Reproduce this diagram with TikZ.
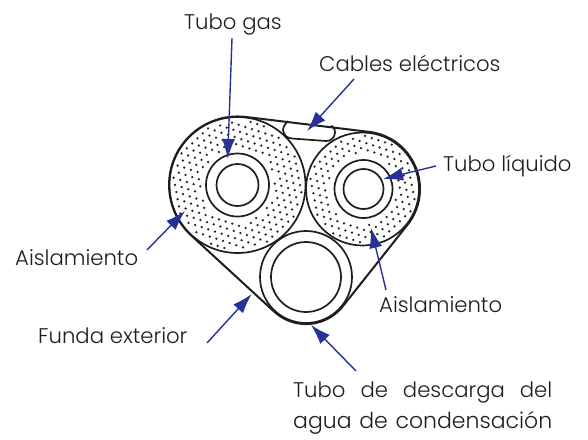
\documentclass[tikz,border=0pt]{standalone}
\usepackage{fontspec}
\setmainfont{Poppins}[UprightFont=* Light]
\usetikzlibrary{arrows.meta}
\definecolor{arrowblue}{RGB}{40,50,150}
\definecolor{ink}{RGB}{30,30,30}
\tikzset{
  line/.style={draw=ink,line width=1.7pt},
  sheath/.style={draw=ink,line width=2pt,line join=round},
  pointer/.style={draw=arrowblue,line width=1.4pt,-{Latex[length=20pt,width=13pt]}},
  label/.style={anchor=base west,inner sep=0pt,font=\fontsize{21.2pt}{24pt}\selectfont,text=ink},
  speck/.style={fill=ink,draw=none}
}
\newcommand{\stipple}[5]{% cx cy rmin rmax angle
  \foreach \i in {-11,...,11}{\foreach \j in {-11,...,11}{
    \pgfmathsetmacro{\px}{7*\i*cos(#5)-6.4*\j*sin(#5)+(mod(\j+20,2)==1?3.5*cos(#5):0)}
    \pgfmathsetmacro{\py}{7*\i*sin(#5)+6.4*\j*cos(#5)+(mod(\j+20,2)==1?3.5*sin(#5):0)}
    \pgfmathsetmacro{\rr}{sqrt(\px*\px+\py*\py)}
    \pgfmathparse{(\rr>#3 && \rr<#4)?1:0}
    \ifnum\pgfmathresult=1 \fill[speck] (#1+\px,#2+\py) circle (1.25);\fi
  }}
}
\begin{document}
\begin{tikzpicture}[x=1pt,y=-1pt]
\useasboundingbox[fill=white] (0,0) rectangle (588,439);
% stipple
\stipple{237.5}{185}{37}{65}{18}
\stipple{362.5}{189}{34}{53.5}{18}
% insulation and tubes
\draw[line] (237.5,185) circle (68);
\draw[line] (237.5,185) circle (31.5);
\draw[line] (237.5,185) circle (21);
\draw[line] (362.5,189) circle (56.5);
\draw[line] (363.5,189) circle (29);
\draw[line] (363.5,189) circle (20);
\fill[white] (306,277) circle (46);
\draw[line] (306,277) circle (46);
\draw[line] (306,277) circle (35);
% outer sheath
\draw[sheath] (191.1,235.3) arc[start angle=132.7,end angle=276.8,radius=68.5]
   -- (369.3,131.9) arc[start angle=-83.2,end angle=38.5,radius=57.5]
   -- (342.8,306.3) arc[start angle=38.5,end angle=132.7,radius=47] -- cycle;
% cable compartment
\draw[line] (288,121) .. controls (284,125) and (282,129) .. (283.5,132)
   .. controls (285,136) and (287,138) .. (292,138.5) -- (326,141)
   .. controls (331,141.5) and (335,137) .. (335,132.5) .. controls (335,129) and (333,127) .. (331.5,125.5);
% labels
\node[label] (gas) at (184,29) {Tubo gas};
\node[label] (cab) at (319,71) {Cables eléctricos};
\node[label] (liq) at (443,171) {Tubo líquido};
\node[label] (ail) at (15,265) {Aislamiento};
\node[label] (air) at (379,312) {Aislamiento};
\node[label] (fun) at (38,343) {Funda exterior};
\node[label] (de1) at (293,397) {\makebox[259pt][s]{Tubo\hfill de\hfill descarga\hfill del}};
\node[label,font=\fontsize{22pt}{24pt}\selectfont] (de2) at (293,428) {\makebox[259pt][s]{agua de condensación}};
% pointers
\coordinate (t1) at (232,38); \coordinate (h1) at (227.7,159);
\coordinate (t2) at (354,79); \coordinate (h2) at (307,131);
\coordinate (t3) at (436,166); \coordinate (h3) at (383,179);
\coordinate (t4) at (147,250); \coordinate (h4) at (185,211);
\coordinate (t5) at (386,290); \coordinate (h5) at (371,228);
\coordinate (t6) at (207,343); \coordinate (h6) at (251.7,294);
\coordinate (t7) at (356,371); \coordinate (h7) at (311,325);
\foreach \k in {1,...,7}{\draw[pointer] (t\k) -- (h\k);}
\end{tikzpicture}
\end{document}
